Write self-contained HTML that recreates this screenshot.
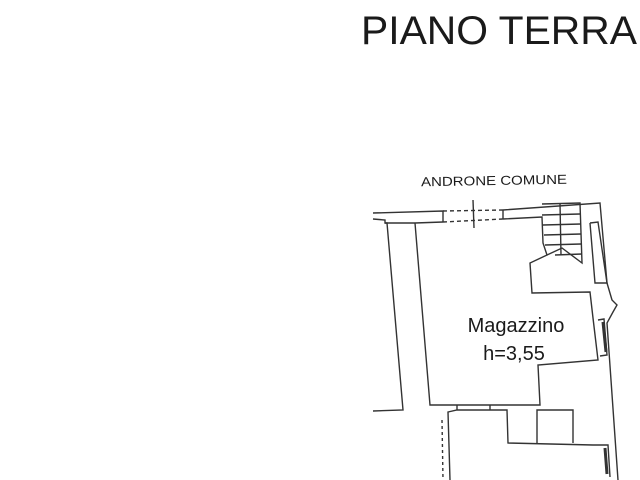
<!DOCTYPE html>
<html><head><meta charset="utf-8"><style>
html,body{margin:0;padding:0;background:#fff;width:640px;height:480px;overflow:hidden}
svg{display:block}
</style></head><body>
<svg width="640" height="480" viewBox="0 0 640 480" xmlns="http://www.w3.org/2000/svg">
<g font-family="Liberation Sans, Arial, sans-serif" fill="#1a1a1a">
<text x="361" y="44" font-size="40" textLength="276" lengthAdjust="spacingAndGlyphs">PIANO TERRA</text>
<text x="421" y="185" font-size="13" textLength="146" lengthAdjust="spacingAndGlyphs" transform="rotate(-1 494 180)">ANDRONE COMUNE</text>
<text x="516" y="332" font-size="20" text-anchor="middle">Magazzino</text>
<text x="514" y="360" font-size="20" text-anchor="middle">h=3,55</text>
</g>
<g fill="none" stroke="#333" stroke-width="1.4">
<polyline points="373,213 443,211 443,222"/>
<polyline points="373,219 385,220 385,223 387,223 403,410 373,411"/>
<polyline points="385,223 415,223"/>
<polyline points="503,210 600,203 607,283 612,300 617,305 613,312 607,323 618,480"/>
<polyline points="503,210 503,219"/>
<line x1="443" y1="211" x2="503" y2="210" stroke-dasharray="4,3"/>
<line x1="443" y1="222" x2="503" y2="219" stroke-dasharray="4,3"/>
<line x1="473" y1="200" x2="474" y2="228"/>
<polyline points="415,223 443,222"/>
<polyline points="503,219 542,217 543,243 547,255 530,263 532,293 590,292 593,318 598,360 538,365 540,405 430,405 415,223"/>
<polyline points="542,204 580,203 582,263 562,248 547,255"/>
<line x1="560" y1="203" x2="561" y2="255"/>
<line x1="542" y1="215" x2="580" y2="214"/>
<line x1="543" y1="225" x2="581" y2="224"/>
<line x1="544" y1="235" x2="581" y2="234"/>
<line x1="545" y1="245" x2="581" y2="244"/>
<line x1="555" y1="255" x2="582" y2="254"/>
<polyline points="590,223 598,222 607,283 595,283 590,223"/>
<polyline points="598,320 604,319 607,355 600,356"/>
<line x1="603" y1="322" x2="606" y2="352" stroke-width="3"/>
<polyline points="450,480 448,412 457,410 507,410 508,443 593,445 608,445 610,477"/>
<polyline points="537,443 537,410 573,410 573,443"/>
<line x1="457" y1="405" x2="457" y2="410"/>
<line x1="490" y1="405" x2="490" y2="410"/>
<line x1="442" y1="420" x2="443" y2="480" stroke-dasharray="3,3"/>
<line x1="605" y1="448" x2="607" y2="474" stroke-width="3"/>
</g>
</svg>
</body></html>
